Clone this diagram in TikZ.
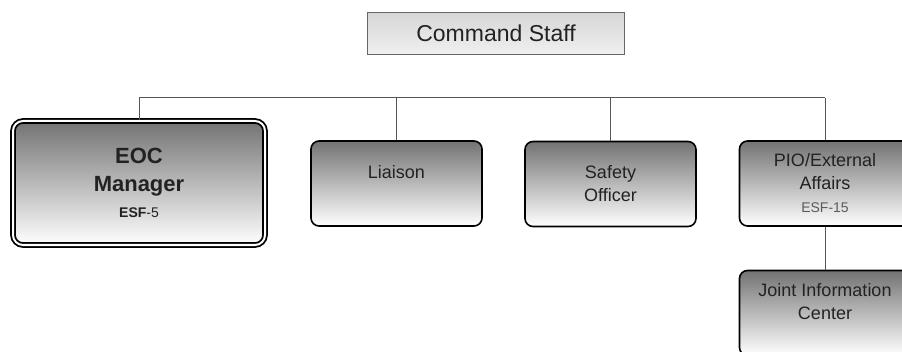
\documentclass[tikz,border=0pt]{standalone}
\usepackage{fontspec}
\setmainfont{Liberation Sans}
\definecolor{wiregray}{HTML}{555555}
\definecolor{inkgray}{HTML}{222222}
\begin{document}
\begin{tikzpicture}
  [x=1pt,y=1pt,
   every node/.style={align=center,text=inkgray,font=\fontsize{18}{23}\selectfont},
   post/.style={draw=black,line width=1.6pt,rounded corners=8pt,
                top color=black!55,bottom color=white,
                minimum width=171pt,minimum height=85pt,inner sep=0pt},
   wire/.style={draw=wiregray,line width=1pt}]
  \useasboundingbox (0,0) rectangle (902,351);

  \node (cmd) at (496,317.5) [draw=black!60,line width=1.2pt,
        top color=black!16,bottom color=black!6,
        minimum width=257pt,minimum height=42pt,
        font=\fontsize{23}{27}\selectfont] {Command Staff};

  \node (eoc) at (139,168) [post,double,line width=1.8pt,double distance=2pt,
        rounded corners=10pt,minimum width=252pt,minimum height=124pt,
        font=\fontsize{22}{28}\selectfont\bfseries]
        {EOC\\Manager\\[-2pt]{\fontsize{14}{16}\selectfont ESF\mdseries-5}};
  \node (liaison) at (396.5,167.5) [post] {Liaison\\\mbox{}};
  \node (safety)  at (610.5,167)   [post] {Safety\\Officer};
  \node (pio)     at (825,167.5)   [post]
        {PIO/External\\Affairs\\{\fontsize{14}{16}\selectfont\color{black!65}ESF-15}};
  \node (jic)     at (825,38)      [post] {Joint Information\\Center\\\mbox{}};

  \coordinate (bus) at (0,253);
  \draw [wire] (eoc.north) -- (eoc.north |- bus) -- (pio.north |- bus);
  \foreach \to in {liaison,safety,pio}
    \draw [wire] (\to.north) -- (\to.north |- bus);
  \draw [wire] (pio.south) -- (jic.north);
\end{tikzpicture}
\end{document}
